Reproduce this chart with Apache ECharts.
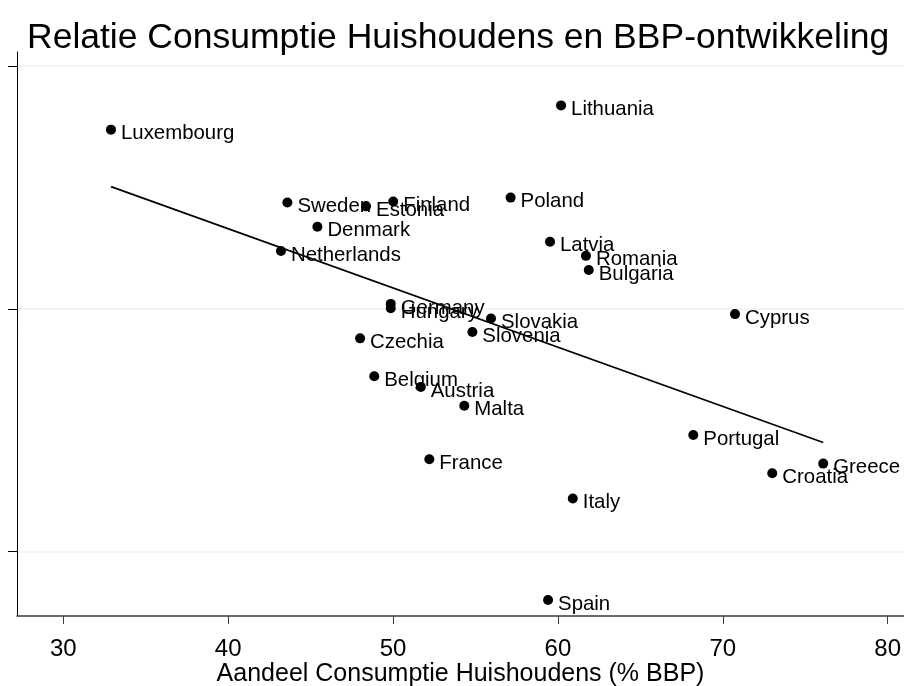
<!DOCTYPE html>
<html>
<head>
<meta charset="utf-8">
<script src="https://cdn.jsdelivr.net/npm/echarts@6/dist/echarts.min.js"></script>
<style>html,body{margin:0;padding:0;background:#fff}#c{width:904px;height:686px}</style>
</head>
<body>
<div id="c"></div>
<script>
const countries = ["Luxembourg","Lithuania","Poland","Latvia","Romania","Bulgaria","France","Italy","Spain","Sweden","Estonia","Finland","Denmark","Netherlands","Germany","Hungary","Slovakia","Czechia","Slovenia","Belgium","Austria","Malta","Portugal","Croatia","Greece","Cyprus"];
const consumptionShare = [32.89,60.19,57.13,59.52,61.70,61.87,52.20,60.90,59.40,43.59,48.36,50.01,45.41,43.20,49.86,49.86,55.94,48.00,54.81,48.86,51.68,54.32,68.21,73.00,76.09,70.74];
const gdpDevelopment = [3.69,4.19,2.29,1.38,1.09,0.80,-3.10,-3.91,-6.00,2.19,2.11,2.21,1.69,1.19,0.10,0.01,-0.20,-0.61,-0.48,-1.39,-1.61,-2.00,-2.60,-3.39,-3.19,-0.11];
const xTicks = [30,40,50,60,70,80];
const yTicks = [-5,0,5];

// OLS fit
const n = consumptionShare.length;
const mx = consumptionShare.reduce((a,b)=>a+b,0)/n;
const my = gdpDevelopment.reduce((a,b)=>a+b,0)/n;
let sxy=0,sxx=0;
for(let i=0;i<n;i++){sxy+=(consumptionShare[i]-mx)*(gdpDevelopment[i]-my);sxx+=(consumptionShare[i]-mx)**2;}
const slope=sxy/sxx, intercept=my-slope*mx;
const xmin=Math.min(...consumptionShare), xmax=Math.max(...consumptionShare);
const fitLine=[[xmin,intercept+slope*xmin],[xmax,intercept+slope*xmax]];

const pts = countries.map((c,i)=>({name:c,value:[consumptionShare[i],gdpDevelopment[i]]}));
const chart = echarts.init(document.getElementById('c'));
chart.setOption({
  animation:false,
  textStyle:{fontFamily:'Liberation Sans, Arial, sans-serif'},
  title:{text:'Relatie Consumptie Huishoudens en BBP-ontwikkeling',left:22,top:15,
    textStyle:{fontSize:35.5,fontWeight:'normal',color:'#000',fontFamily:'Liberation Sans, Arial, sans-serif'}},
  grid:{left:17,right:0,top:52,bottom:70,containLabel:false,outerBoundsMode:'none'},
  xAxis:{type:'value',min:27.19,max:80.99,
    name:'Aandeel Consumptie Huishoudens (% BBP)',nameLocation:'middle',nameGap:46,nameMoveOverlap:false,
    nameTextStyle:{fontSize:25,color:'#000'},
    axisLine:{show:true,onZero:false,lineStyle:{color:'#3a3a3a',width:1.5}},
    axisTick:{show:true,length:8,customValues:xTicks,lineStyle:{color:'#3a3a3a',width:1}},
    axisLabel:{fontSize:24,color:'#000',margin:21,customValues:xTicks},
    splitLine:{show:false}},
  yAxis:{type:'value',min:-6.33,max:5.29,
    axisLine:{show:true,onZero:false,lineStyle:{color:'#000',width:1}},
    axisTick:{show:true,length:9,customValues:yTicks,lineStyle:{color:'#000',width:1}},
    axisLabel:{show:false,customValues:yTicks},
    splitLine:{show:true,lineStyle:{color:'#eaf0f2',width:1.5}}},
  series:[
    {type:'line',data:fitLine,showSymbol:false,symbol:'none',lineStyle:{color:'#000',width:1.6},z:1},
    {type:'scatter',data:pts,symbol:'circle',symbolSize:10,itemStyle:{color:'#000',opacity:1},z:2,
      label:{show:true,position:'right',distance:5,offset:[0,4],formatter:'{b}',fontSize:20.4,color:'#000'}}
  ]
});
</script>
</body>
</html>
